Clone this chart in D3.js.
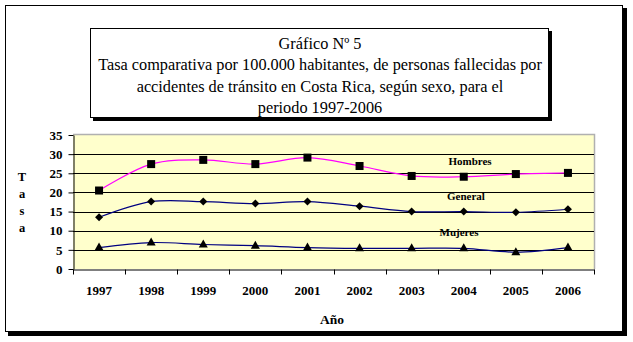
<!DOCTYPE html>
<html><head><meta charset="utf-8">
<script src="https://cdn.jsdelivr.net/npm/d3@7"></script>
<style>body{margin:0;background:#fff}svg{display:block}</style>
</head><body>
<script>
const years = ["1997","1998","1999","2000","2001","2002","2003","2004","2005","2006"];
const hombres = [20.5, 27.4, 28.5, 27.4, 29.1, 26.9, 24.3, 24.1, 24.8, 25.1];
const general = [13.5, 17.6, 17.6, 17.1, 17.6, 16.4, 15.0, 15.0, 14.8, 15.6];
const mujeres = [5.6, 6.9, 6.4, 6.1, 5.6, 5.4, 5.4, 5.4, 4.4, 5.6];
const yTicks = [0,5,10,15,20,25,30,35];
const titleLines = ["Gráfico Nº 5","Tasa comparativa por 100.000 habitantes, de personas fallecidas por","accidentes de tránsito en Costa Rica, según sexo, para el","periodo 1997-2006"];

const W=633,H=342;
const svg=d3.select("body").append("svg").attr("width",W).attr("height",H);
const font="Liberation Serif, DejaVu Serif, Times New Roman, serif";

// outer frame with shadow
svg.append("rect").attr("x",8).attr("y",8).attr("width",619).attr("height",328).attr("fill","#000");
svg.append("rect").attr("x",5.5).attr("y",5.5).attr("width",617).attr("height",326).attr("fill","#fff").attr("stroke","#000").attr("stroke-width",1);

// title box with shadow
svg.append("rect").attr("x",93).attr("y",31).attr("width",459).attr("height",90).attr("fill","#000");
svg.append("rect").attr("x",90.5).attr("y",28.5).attr("width",458).attr("height",89).attr("fill","#fff").attr("stroke","#000").attr("stroke-width",1);
svg.append("g").selectAll("text").data(titleLines).join("text")
  .attr("x",320).attr("y",(d,i)=>48.5+i*21.5).attr("text-anchor","middle")
  .style("font-family",font).style("font-size","16.3px").attr("fill","#000").text(d=>d);

const m={l:73,r:594,t:135,b:269};
const x=d3.scaleBand().domain(years).range([m.l,m.r]);
const y=d3.scaleLinear().domain([0,35]).range([m.b,m.t]);

// plot area
svg.append("rect").attr("x",m.l).attr("y",m.t).attr("width",m.r-m.l).attr("height",m.b-m.t).attr("fill","#FFFFCC");
svg.append("path").attr("d",`M${m.l},${m.t-0.5}H${m.r+0.5}V${m.b}`).attr("fill","none").attr("stroke","#b0b0b0").attr("stroke-width",1.5);
svg.append("g").selectAll("line").data(yTicks.slice(1,-1)).join("line")
  .attr("x1",m.l).attr("x2",m.r).attr("y1",d=>Math.round(y(d))+0.5).attr("y2",d=>Math.round(y(d))+0.5)
  .attr("stroke","#000").attr("stroke-width",1);

// axes
const ya=svg.append("g").attr("transform",`translate(${m.l+0.5},0)`)
  .call(d3.axisLeft(y).tickValues(yTicks).tickSize(5).tickSizeOuter(0).tickPadding(6));
ya.selectAll("text").style("font-family",font).style("font-size","13px").style("font-weight","bold").attr("fill","#000");
ya.select(".domain").attr("stroke","#000");
ya.selectAll(".tick line").attr("stroke","#000");

const xa=svg.append("g").attr("transform",`translate(0,${m.b+0.5})`)
  .call(d3.axisBottom(x).tickSize(0).tickPadding(16));
xa.selectAll("text").style("font-family",font).style("font-size","13px").style("font-weight","bold").attr("fill","#000");
xa.select(".domain").attr("stroke","#000");
const bounds=years.map(d=>x(d)).concat([m.r]);
xa.selectAll(".bt").data(bounds).join("line").attr("class","bt")
  .attr("x1",d=>Math.round(d)+0.5).attr("x2",d=>Math.round(d)+0.5).attr("y1",0).attr("y2",5).attr("stroke","#000");

// series
const cx=d=>x(d)+x.bandwidth()/2;
const line=d3.line().x((d,i)=>cx(years[i])).y(d=>y(d)).curve(d3.curveCatmullRom.alpha(0.5));
const series=[
  {name:"Hombres",vals:hombres,color:"#FF00FF",mark:"square"},
  {name:"General",vals:general,color:"#000080",mark:"diamond"},
  {name:"Mujeres",vals:mujeres,color:"#000080",mark:"triangle"}
];
series.forEach(s=>{
  svg.append("path").datum(s.vals).attr("d",line).attr("fill","none").attr("stroke",s.color).attr("stroke-width",1.2);
});
series.forEach(s=>{
  const g=svg.append("g");
  s.vals.forEach((v,i)=>{
    const px=cx(years[i]),py=y(v);
    if(s.mark==="square") g.append("rect").attr("x",px-4).attr("y",py-4).attr("width",8).attr("height",8).attr("fill","#000");
    else if(s.mark==="diamond") g.append("path").attr("d",`M${px},${py-4}L${px+4},${py}L${px},${py+4}L${px-4},${py}Z`).attr("fill","#000");
    else g.append("path").attr("d",`M${px},${py-5}L${px+4.5},${py+3}L${px-4.5},${py+3}Z`).attr("fill","#000");
  });
});

// series labels
const labels=[{t:"Hombres",x:470,y:165},{t:"General",x:466,y:200},{t:"Mujeres",x:459,y:236}];
svg.append("g").selectAll("text").data(labels).join("text")
  .attr("x",d=>d.x).attr("y",d=>d.y).attr("text-anchor","middle")
  .style("font-family",font).style("font-size","11px").style("font-weight","bold").attr("fill","#000").text(d=>d.t);

// y axis label
svg.append("g").selectAll("text").data(["T","a","s","a"]).join("text")
  .attr("x",22).attr("y",(d,i)=>181+i*17).attr("text-anchor","middle")
  .style("font-family",font).style("font-size","12.5px").style("font-weight","bold").attr("fill","#000").text(d=>d);

// x axis title
svg.append("text").attr("x",332).attr("y",324).attr("text-anchor","middle")
  .style("font-family",font).style("font-size","13.5px").style("font-weight","bold").attr("fill","#000").text("Año");
</script>
</body></html>
